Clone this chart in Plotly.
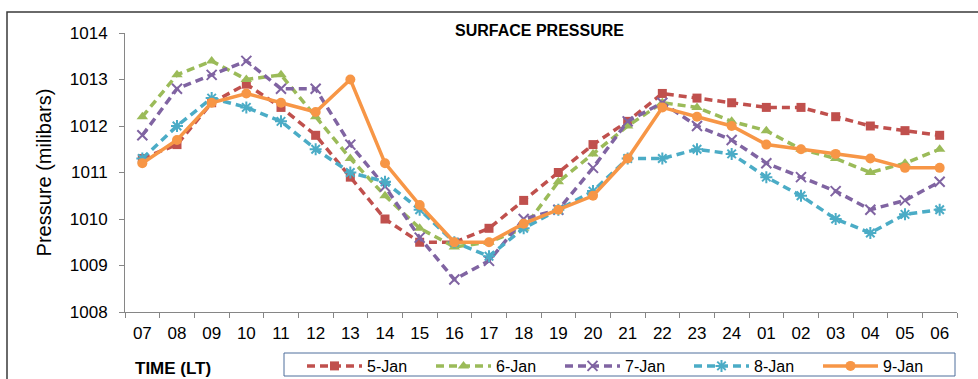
import plotly.graph_objects as go

hours = ["07", "08", "09", "10", "11", "12", "13", "14", "15", "16", "17", "18",
         "19", "20", "21", "22", "23", "24", "01", "02", "03", "04", "05", "06"]

jan5 = [1011.3, 1011.6, 1012.5, 1012.9, 1012.4, 1011.8, 1010.9, 1010.0, 1009.5, 1009.5, 1009.8, 1010.4,
        1011.0, 1011.6, 1012.1, 1012.7, 1012.6, 1012.5, 1012.4, 1012.4, 1012.2, 1012.0, 1011.9, 1011.8]
jan6 = [1012.2, 1013.1, 1013.4, 1013.0, 1013.1, 1012.2, 1011.3, 1010.5, 1009.8, 1009.4, 1009.5, 1009.8,
        1010.8, 1011.4, 1012.0, 1012.5, 1012.4, 1012.1, 1011.9, 1011.5, 1011.3, 1011.0, 1011.2, 1011.5]
jan7 = [1011.8, 1012.8, 1013.1, 1013.4, 1012.8, 1012.8, 1011.6, 1010.7, 1009.6, 1008.7, 1009.1, 1010.0,
        1010.2, 1011.1, 1012.1, 1012.5, 1012.0, 1011.7, 1011.2, 1010.9, 1010.6, 1010.2, 1010.4, 1010.8]
jan8 = [1011.3, 1012.0, 1012.6, 1012.4, 1012.1, 1011.5, 1011.0, 1010.8, 1010.2, 1009.5, 1009.2, 1009.8,
        1010.2, 1010.6, 1011.3, 1011.3, 1011.5, 1011.4, 1010.9, 1010.5, 1010.0, 1009.7, 1010.1, 1010.2]
jan9 = [1011.2, 1011.7, 1012.5, 1012.7, 1012.5, 1012.3, 1013.0, 1011.2, 1010.3, 1009.5, 1009.5, 1009.9,
        1010.2, 1010.5, 1011.3, 1012.4, 1012.2, 1012.0, 1011.6, 1011.5, 1011.4, 1011.3, 1011.1, 1011.1]

series = [
    ("5-Jan", jan5, "#C0504D", "square", "8px,5px", 9, 0),
    ("6-Jan", jan6, "#9BBB59", "triangle-up", "8px,5px", 10, 0),
    ("7-Jan", jan7, "#8064A2", "x-thin", "8px,5px", 10, 2),
    ("8-Jan", jan8, "#4BACC6", "asterisk", "8px,5px", 10, 2),
    ("9-Jan", jan9, "#F79646", "circle", "solid", 10, 0),
]

fig = go.Figure()
for name, vals, col, sym, dash, msize, mlw in series:
    fig.add_trace(go.Scatter(
        x=hours, y=vals, name=name, mode="lines+markers",
        line=dict(color=col, width=3.5, dash=dash),
        marker=dict(symbol=sym, size=msize, color=col,
                    line=dict(color=col, width=mlw)),
    ))

font = "Liberation Sans"
W, H = 978, 379
L, R, T, B = 125, 21, 33, 67
PW, PH = W - L - R, H - T - B


def px(x):
    return (x - L) / PW


def py(y):
    return (H - B - y) / PH


fig.update_layout(
    width=W, height=H,
    margin=dict(l=L, r=R, t=T, b=B, autoexpand=False),
    paper_bgcolor="white", plot_bgcolor="white",
    font=dict(family=font, color="#000000"),
    showlegend=True,
    legend=dict(orientation="h", xref="container", yref="container",
                x=302 / W, y=(H - 349) / H, xanchor="left", yanchor="top",
                borderwidth=0, bgcolor="rgba(0,0,0,0)",
                font=dict(size=16, family=font),
                entrywidth=59, entrywidthmode="pixels",
                itemwidth=55, tracegroupgap=0),
    xaxis=dict(type="category", tickson="boundaries", ticks="outside", ticklen=5,
               tickcolor="#868686", showline=True, linecolor="#868686", linewidth=1,
               showgrid=False, tickfont=dict(size=17, family=font), range=[-0.5, 23.5],
               ticklabelstandoff=6, automargin=False),
    yaxis=dict(range=[1008, 1014], dtick=1, ticks="outside", ticklen=5,
               tickcolor="#868686", showline=True, linecolor="#868686", linewidth=1,
               showgrid=False, zeroline=False, tickfont=dict(size=17, family=font),
               ticklabelstandoff=8, automargin=False,
               title=dict(text="Pressure (milibars)", font=dict(size=20, family=font),
                          standoff=12)),
    annotations=[
        dict(text="<b>SURFACE PRESSURE</b>", xref="paper", yref="paper",
             x=px(539), y=py(30), xanchor="center", yanchor="middle",
             showarrow=False, font=dict(size=16, family=font)),
        dict(text="<b>TIME (LT)</b>", xref="paper", yref="paper",
             x=px(133), y=py(368), xanchor="left", yanchor="middle",
             showarrow=False, font=dict(size=17, family=font)),
    ],
    shapes=[
        dict(type="rect", xref="paper", yref="paper",
             x0=px(7), x1=px(995), y0=py(395), y1=py(12),
             line=dict(color="#3A3A3A", width=1.5), layer="below"),
        dict(type="rect", xref="paper", yref="paper",
             x0=px(284), x1=px(955), y0=py(376), y1=py(353),
             line=dict(color="#4F6E9C", width=1), layer="below"),
    ],
)

fig.write_html("out.html", config={"displayModeBar": False},
               post_script="document.body.style.margin='0';")
